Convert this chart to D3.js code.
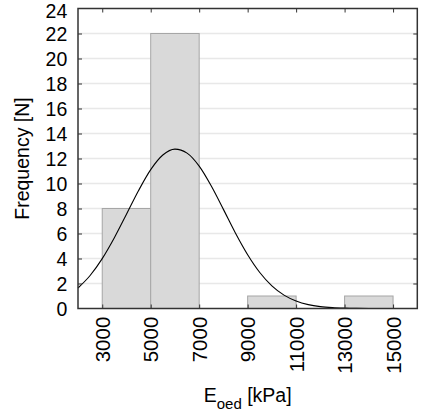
<!DOCTYPE html>
<html>
<head>
<meta charset="utf-8">
<script src="https://cdn.jsdelivr.net/npm/d3@7"></script>
<style>
  body { margin: 0; background: white; }
  svg text { font-family: "Liberation Sans", Arial, sans-serif; fill: black; }
</style>
</head>
<body>
<div id="chart"></div>
<script>
// histogram bins (kPa) and counts
var binStarts = [3000, 5000, 7000, 9000, 11000, 13000]
var binWidth = 2000
var counts = [8, 22, 0, 1, 0, 1]

// fitted normal curve
var curveX = [2000, 2500, 3000, 3500, 4000, 4500, 5000, 5500, 6000, 6500, 7000, 7500, 8000, 8500,
  9000, 9500, 10000, 10500, 11000, 11500, 12000, 12500, 13000, 13500, 14000, 15000, 16000]
var curveY = [1.64, 2.64, 3.99, 5.66, 7.54, 9.44, 11.11, 12.28, 12.75, 12.43, 11.39, 9.8, 7.93, 6.02,
  4.3, 2.88, 1.81, 1.07, 0.6, 0.31, 0.15, 0.07, 0.03, 0.01, 0, 0, 0]

var xTicks = [3000, 5000, 7000, 9000, 11000, 13000, 15000]
var yTicks = [0, 2, 4, 6, 8, 10, 12, 14, 16, 18, 20, 22, 24]

var width = 422
var height = 411
var margin = { top: 8.5, right: 4.7, bottom: 102.5, left: 78 }

var svg = d3.select("#chart")
  .append("svg")
  .attr("width", width)
  .attr("height", height)

var xScale = d3.scaleLinear()
  .domain([2000, 16000])
  .range([margin.left, width - margin.right])

var yScale = d3.scaleLinear()
  .domain([0, 24])
  .range([height - margin.bottom, margin.top])

// grid
svg.append("g")
  .selectAll("line")
  .data(yTicks.slice(1, -1))
  .enter()
  .append("line")
  .attr("x1", margin.left)
  .attr("x2", width - margin.right)
  .attr("y1", d => yScale(d))
  .attr("y2", d => yScale(d))
  .style("stroke", "#e8e8e8")
  .style("stroke-width", 1.5)

// bars
svg.selectAll(".bar")
  .data(binStarts)
  .enter()
  .append("rect")
  .attr("class", "bar")
  .attr("x", d => xScale(d))
  .attr("width", d => xScale(d + binWidth) - xScale(d))
  .attr("y", (d, i) => yScale(counts[i]))
  .attr("height", (d, i) => yScale(0) - yScale(counts[i]))
  .style("display", (d, i) => counts[i] === 0 ? "none" : null)
  .style("fill", "#d9d9d9")
  .style("stroke", "#a6a6a6")
  .style("stroke-width", 1)

// normal curve
var line = d3.line()
  .x(d => xScale(d[0]))
  .y(d => yScale(d[1]))
  .curve(d3.curveMonotoneX)

svg.append("path")
  .datum(curveX.map((x, i) => [x, curveY[i]]))
  .attr("d", line)
  .style("fill", "none")
  .style("stroke", "black")
  .style("stroke-width", 1.1)

// axes, ticks point inward on all sides
var tickLen = 4
var axisColor = "#333"

svg.append("g")
  .attr("transform", `translate(0,${height - margin.bottom})`)
  .call(d3.axisTop(xScale).tickValues(xTicks).tickSize(tickLen).tickFormat("").tickSizeOuter(0))
  .call(g => g.select(".domain").remove())
  .style("color", axisColor)

svg.append("g")
  .attr("transform", `translate(0,${margin.top})`)
  .call(d3.axisBottom(xScale).tickValues(xTicks).tickSize(tickLen).tickFormat("").tickSizeOuter(0))
  .call(g => g.select(".domain").remove())
  .style("color", axisColor)

svg.append("g")
  .attr("transform", `translate(${margin.left},0)`)
  .call(d3.axisRight(yScale).tickValues(yTicks.slice(1, -1)).tickSize(tickLen).tickFormat("").tickSizeOuter(0))
  .call(g => g.select(".domain").remove())
  .style("color", axisColor)

svg.append("g")
  .attr("transform", `translate(${width - margin.right},0)`)
  .call(d3.axisLeft(yScale).tickValues(yTicks.slice(1, -1)).tickSize(tickLen).tickFormat("").tickSizeOuter(0))
  .call(g => g.select(".domain").remove())
  .style("color", axisColor)

svg.append("rect")
  .attr("x", margin.left)
  .attr("y", margin.top)
  .attr("width", width - margin.right - margin.left)
  .attr("height", height - margin.bottom - margin.top)
  .style("fill", "none")
  .style("stroke", axisColor)
  .style("stroke-width", 1.5)

// y tick labels (top one nudged so it stays inside the page)
svg.append("g")
  .selectAll("text")
  .data(yTicks)
  .enter()
  .append("text")
  .attr("x", margin.left - 10.7)
  .attr("y", d => Math.max(yScale(d), 10.7))
  .attr("dy", "0.36em")
  .style("text-anchor", "end")
  .style("font-size", "19.5px")
  .text(d => d)

// x tick labels, rotated
svg.append("g")
  .selectAll("text")
  .data(xTicks)
  .enter()
  .append("text")
  .attr("transform", d => `translate(${xScale(d) + 0.3},${height - margin.bottom + 8.2}) rotate(-90)`)
  .attr("dy", "0.36em")
  .style("text-anchor", "end")
  .style("font-size", "20.5px")
  .text(d => d)

// axis titles
svg.append("text")
  .attr("transform", `translate(29,${(margin.top + height - margin.bottom) / 2}) rotate(-90)`)
  .style("text-anchor", "middle")
  .style("font-size", "19.5px")
  .text("Frequency [N]")

var xTitle = svg.append("text")
  .attr("x", (margin.left + width - margin.right) / 2)
  .attr("y", 401.7)
  .style("text-anchor", "middle")
  .style("font-size", "19.5px")
xTitle.append("tspan").text("E")
xTitle.append("tspan").attr("dy", 7).style("font-size", "15px").text("oed")
xTitle.append("tspan").attr("dy", -7).text(" [kPa]")
</script>
</body>
</html>
